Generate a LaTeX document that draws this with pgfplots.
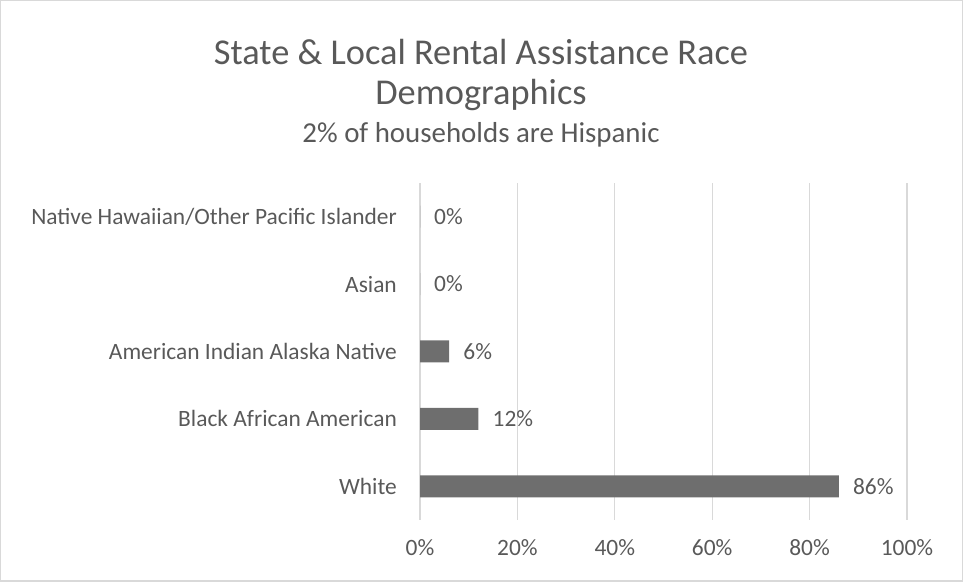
\documentclass[border=0pt]{standalone}
\usepackage{pgfplots}
\pgfplotsset{compat=1.18}
\usepackage{fontspec}
\setmainfont{Carlito}
\definecolor{txt}{HTML}{595959}
\definecolor{barc}{HTML}{6E6E6E}
\definecolor{gridc}{HTML}{D9D9D9}
\begin{document}
\begin{tikzpicture}[x=1bp,y=1bp]
\draw[gridc, line width=1.5bp] (0.75,0.75) rectangle (962.25,581.25);
\node[txt, font=\fontsize{36.5}{42}\selectfont] at (481,530) {State \& Local Rental Assistance Race};
\node[txt, font=\fontsize{36.5}{42}\selectfont] at (481,487) {Demographics};
\node[txt, font=\fontsize{29}{34}\selectfont] at (481,447) {2\% of households are Hispanic};
\begin{axis}[at={(420bp,62bp)}, anchor=south west, scale only axis,
  width=487bp, height=337bp,
  xmin=0, xmax=100, ymin=-0.5, ymax=4.5,
  xbar, bar width=22bp,
  axis line style={draw=none}, major tick length=0pt,
  xmajorgrids, grid style={gridc, line width=1.2bp},
  xtick={0,20,...,100},
  xticklabels={0\%,20\%,40\%,60\%,80\%,100\%},
  ytick={0,1,2,3,4},
  yticklabels={White, Black African American, American Indian Alaska Native, Asian, Native Hawaiian/Other Pacific Islander},
  tick label style={txt, font=\fontsize{23.5}{28}\selectfont, inner sep=0pt},
  yticklabel style={anchor=east, xshift=-23bp},
  xticklabel style={anchor=center, yshift=-28bp},
  point meta=x,
  nodes near coords={\pgfmathprintnumber[assume math mode=true]{\pgfplotspointmeta}\%},
  nodes near coords style={anchor=west, inner sep=0pt, xshift=14bp, txt, font=\fontsize{23.5}{28}\selectfont},
  clip=false]
\addplot[fill=barc, draw=none] coordinates {(86,0) (12,1) (6,2) (0,3) (0,4)};
\end{axis}
\end{tikzpicture}
\end{document}
